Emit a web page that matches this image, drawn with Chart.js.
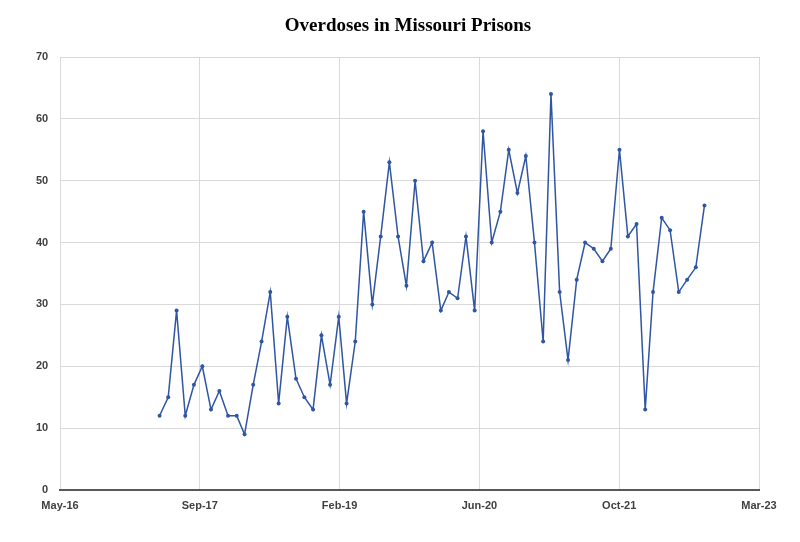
<!DOCTYPE html>
<html lang="en">
<head>
    <meta charset="UTF-8">
    <title>Overdoses in Missouri Prisons</title>
    <style>
        body {
            margin: 0;
            padding: 0;
            background-color: #fff;
        }

        #chartBox {
            width: 800px;
            height: 542px;
        }
    </style>
</head>
<body>
    <div id="chartBox">
        <canvas id="overdoseChart" width="800" height="542"></canvas>
    </div>
    <script src="https://cdn.jsdelivr.net/npm/chart.js"></script>
    <script>
        // monthly counts, May 2017 .. Sep 2022
        const months = [
            '2017-05', '2017-06', '2017-07', '2017-08', '2017-09', '2017-10', '2017-11', '2017-12',
            '2018-01', '2018-02', '2018-03', '2018-04', '2018-05', '2018-06', '2018-07', '2018-08',
            '2018-09', '2018-10', '2018-11', '2018-12',
            '2019-01', '2019-02', '2019-03', '2019-04', '2019-05', '2019-06', '2019-07', '2019-08',
            '2019-09', '2019-10', '2019-11', '2019-12',
            '2020-01', '2020-02', '2020-03', '2020-04', '2020-05', '2020-06', '2020-07', '2020-08',
            '2020-09', '2020-10', '2020-11', '2020-12',
            '2021-01', '2021-02', '2021-03', '2021-04', '2021-05', '2021-06', '2021-07', '2021-08',
            '2021-09', '2021-10', '2021-11', '2021-12',
            '2022-01', '2022-02', '2022-03', '2022-04', '2022-05', '2022-06', '2022-07', '2022-08',
            '2022-09'
        ];

        const overdoses = [
            12, 15, 29, 12, 17, 20, 13, 16,
            12, 12, 9, 17, 24, 32, 14, 28,
            18, 15, 13, 25,
            17, 28, 14, 24, 45, 30, 41, 53,
            41, 33, 50, 37,
            40, 29, 32, 31, 41, 29, 58, 40,
            45, 55, 48, 54,
            40, 24, 64, 32, 21, 34, 40, 39,
            37, 39, 55, 41,
            43, 13, 32, 44, 42, 32, 34, 36,
            46
        ];

        // x axis uses Excel-style day serials (May-16 .. Mar-23, every 500 days)
        const xMin = 42500;
        const xMax = 45000;
        const xStep = 500;
        const yTicks = [0, 10, 20, 30, 40, 50, 60, 70];

        const monthNames = ['Jan', 'Feb', 'Mar', 'Apr', 'May', 'Jun', 'Jul', 'Aug', 'Sep', 'Oct', 'Nov', 'Dec'];
        const EXCEL_EPOCH = Date.UTC(1899, 11, 30);
        const DAY = 86400000;

        const toSerial = (ym) => {
            const [y, m] = ym.split('-').map(Number);
            return (Date.UTC(y, m - 1, 1) - EXCEL_EPOCH) / DAY;
        };

        const serialLabel = (v) => {
            const d = new Date(EXCEL_EPOCH + v * DAY);
            return monthNames[d.getUTCMonth()] + '-' + String(d.getUTCFullYear()).slice(2);
        };

        const points = months.map((m, i) => ({ x: toSerial(m), y: overdoses[i] }));

        const tickFont = { family: '"Liberation Sans Narrow", "Liberation Sans", Arial, sans-serif', size: 11, weight: 'bold' };
        const lineBlue = '#2f55a3';

        new Chart(document.getElementById('overdoseChart'), {
            type: 'line',
            data: {
                datasets: [{
                    label: 'Overdoses',
                    data: points,
                    borderColor: lineBlue,
                    backgroundColor: lineBlue,
                    borderWidth: 1.5,
                    pointRadius: 2,
                    pointBorderWidth: 0,
                    tension: 0
                }]
            },
            options: {
                responsive: false,
                animation: false,
                // left padding keeps the title centred where the original has it;
                // the y labels are mirrored so they can draw into that space unclipped
                layout: {
                    padding: { left: 57, right: 41, top: 0, bottom: 0 }
                },
                plugins: {
                    legend: { display: false },
                    tooltip: { enabled: false },
                    title: {
                        display: true,
                        text: 'Overdoses in Missouri Prisons',
                        color: '#000',
                        font: { family: '"Liberation Serif", "Times New Roman", serif', size: 19, weight: 'bold', lineHeight: 1.2 },
                        padding: { top: 15, bottom: 19.2 }
                    }
                },
                scales: {
                    x: {
                        type: 'linear',
                        min: xMin,
                        max: xMax,
                        afterFit: (scale) => { scale.height = 52; },
                        afterBuildTicks: (scale) => {
                            const ticks = [];
                            for (let v = xMin; v <= xMax; v += xStep) ticks.push({ value: v });
                            scale.ticks = ticks;
                        },
                        ticks: {
                            color: '#404040',
                            font: tickFont,
                            padding: 9,
                            maxRotation: 0,
                            autoSkip: false,
                            callback: (v) => serialLabel(v)
                        },
                        grid: {
                            color: '#d9d9d9',
                            lineWidth: 1,
                            drawTicks: false
                        },
                        border: {
                            display: true,
                            color: '#595959',
                            width: 2
                        }
                    },
                    y: {
                        min: yTicks[0],
                        max: yTicks[yTicks.length - 1],
                        afterFit: (scale) => { scale.width = 3; },
                        ticks: {
                            stepSize: 10,
                            color: '#404040',
                            font: tickFont,
                            mirror: true,
                            crossAlign: 'far',
                            padding: -24
                        },
                        grid: {
                            color: '#d9d9d9',
                            lineWidth: 1,
                            drawTicks: false
                        },
                        border: { display: false }
                    }
                }
            }
        });
    </script>
</body>
</html>
